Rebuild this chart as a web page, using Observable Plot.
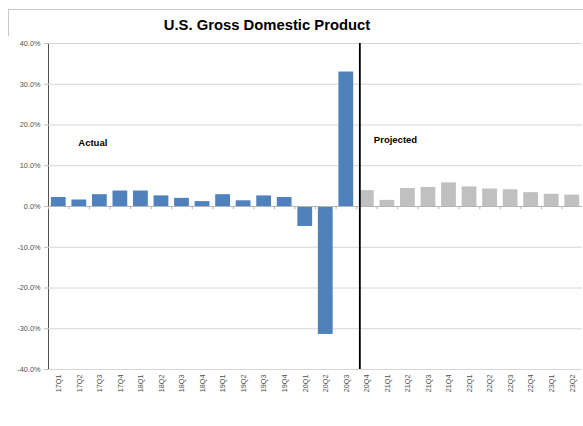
<!DOCTYPE html>
<html>
<head>
<meta charset="utf-8">
<script src="https://cdn.jsdelivr.net/npm/d3@7"></script>
<script src="https://cdn.jsdelivr.net/npm/@observablehq/plot@0.6"></script>
<style>
  body { margin: 0; background: #fff; }
  #wrap { position: relative; width: 583px; height: 426px; overflow: hidden; font-family: "Liberation Sans", Arial, sans-serif; }
  #frame { position: absolute; left: 8px; top: 9px; width: 600px; height: 450px; border-left: 1px solid #c8c8c8; border-top: 1px solid #c8c8c8; }
  #title { position: relative; width: 534px; height: 36px; box-sizing: border-box; padding-top: 16px; line-height: 18px; text-align: center; font-size: 14.8px; font-weight: bold; color: #000; }
  #chart { position: relative; }
  #chart svg g[aria-label^="y-axis"] line, #chart svg g[aria-label^="y-axis"] path { stroke: #bfbfbf; }
</style>
</head>
<body>
<div id="wrap">
  <div id="frame"></div>
  <div id="title">U.S. Gross Domestic Product</div>
  <div id="chart"></div>
</div>
<script>
// Data
const quarters = ["17Q1","17Q2","17Q3","17Q4","18Q1","18Q2","18Q3","18Q4","19Q1","19Q2","19Q3","19Q4","20Q1","20Q2","20Q3","20Q4","21Q1","21Q2","21Q3","21Q4","22Q1","22Q2","22Q3","22Q4","23Q1","23Q2"];
const actualQuarters = ["17Q1","17Q2","17Q3","17Q4","18Q1","18Q2","18Q3","18Q4","19Q1","19Q2","19Q3","19Q4","20Q1","20Q2","20Q3"];
const actualValues = [2.2, 1.6, 2.9, 3.8, 3.8, 2.6, 2.0, 1.2, 2.9, 1.4, 2.6, 2.2, -4.9, -31.4, 33.0];
const projectedQuarters = ["20Q4","21Q1","21Q2","21Q3","21Q4","22Q1","22Q2","22Q3","22Q4","23Q1","23Q2"];
const projectedValues = [3.9, 1.5, 4.4, 4.7, 5.8, 4.8, 4.3, 4.1, 3.4, 3.0, 2.8];
const yTicks = [-40, -30, -20, -10, 0, 10, 20, 30, 40];
const dividerQuarter = "20Q4";
const actualLabel = [{label: "Actual", q: "17Q2", v: 15.5}];
const projectedLabel = [{label: "Projected", q: "20Q4", v: 16.3}];

const actual = actualQuarters.map((q, i) => ({q, v: actualValues[i]}));
const projected = projectedQuarters.map((q, i) => ({q, v: projectedValues[i]}));

const chart = Plot.plot({
  width: 583,
  height: 390,
  marginTop: 7,
  marginBottom: 57,
  marginLeft: 48,
  marginRight: 1,
  style: {fontFamily: "Liberation Sans, Arial, sans-serif", fontSize: "7.3px", color: "#505050", background: "#fff"},
  x: {domain: quarters, paddingInner: 0.28, paddingOuter: 0.14, round: false, label: null, tickSize: 0, tickPadding: 5, tickRotate: -90},
  y: {domain: [-40, 40], ticks: yTicks, tickFormat: d => d.toFixed(1) + "%", tickSize: 4, tickPadding: 4, line: true, label: null},
  marks: [
    Plot.ruleY(yTicks, {stroke: "#d6d6d6", strokeWidth: 1}),
    Plot.barY(actual, {x: "q", y: "v", fill: "#4f81bd"}),
    Plot.barY(projected, {x: "q", y: "v", fill: "#c0c0c0"}),
    Plot.ruleY([0], {stroke: "#b4b4b4", strokeWidth: 1}),
    Plot.ruleX(quarters, {x: d => d, dx: -10.27, y1: 0, y2: -0.8, stroke: "#b4b4b4"}),
    Plot.ruleX([dividerQuarter], {x: d => d, dx: -7, stroke: "#000", strokeWidth: 1.8}),
    Plot.text(actualLabel, {x: "q", y: "v", text: "label", textAnchor: "start", dx: -1, fontSize: 9.5, fontWeight: "bold", fill: "#000"}),
    Plot.text(projectedLabel, {x: "q", y: "v", text: "label", textAnchor: "start", dx: 7, fontSize: 9.5, fontWeight: "bold", fill: "#000"})
  ]
});
document.getElementById("chart").appendChild(chart);
</script>
</body>
</html>
